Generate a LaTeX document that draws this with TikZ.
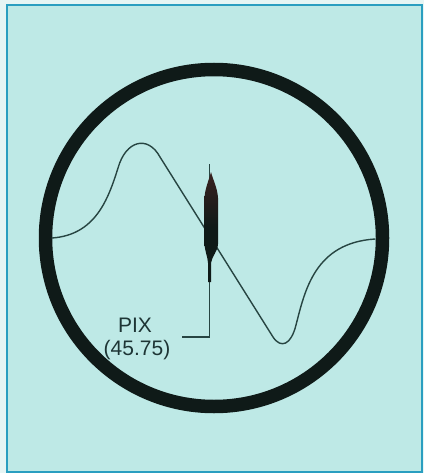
\documentclass[tikz,border=0pt]{standalone}
\usepackage{fontspec}
\setmainfont{Liberation Sans}
\definecolor{paper}{HTML}{E6F5F4}
\definecolor{panel}{HTML}{BEE9E6}
\definecolor{frameblue}{HTML}{2A9EC0}
\definecolor{ringc}{HTML}{0F1A18}
\definecolor{wavec}{HTML}{274542}
\definecolor{textc}{HTML}{1E3535}
\definecolor{blobtop}{HTML}{3A2220}
\begin{document}
\begin{tikzpicture}[x=1pt,y=-1pt,
  wave/.style={draw=wavec,line width=1.4pt,line join=round,line cap=round},
  leader/.style={draw=wavec,line width=1.1pt},
  lbl/.style={text=textc,font=\fontsize{21}{25}\selectfont,inner sep=0pt}]
\useasboundingbox (0,0) rectangle (424,473);
\fill[paper] (0,0) rectangle (424,473);
\filldraw[fill=panel,draw=frameblue,line width=2pt] (7,5) rectangle (421.5,471.5);
% ring
\draw[ringc,line width=13.5pt] (214,238) circle[radius=168.5];
% wave
\draw[wave] (52,238) .. controls (95,235) and (108,200) .. (118,168)
  .. controls (126,140) and (148,135) .. (160,157) -- (273,337)
  .. controls (281,349) and (291,345) .. (296,325)
  .. controls (305,290) and (315,243) .. (375,239);
% marker
\coordinate (lt) at (209.5,164);
\coordinate (lb) at (209.5,337);
\coordinate (le) at (182,337);
\draw[leader] (lt) -- (lb) -- (le);
\shade[top color=blobtop,bottom color=ringc,middle color=ringc]
  (211,172) .. controls (209,180) and (205,188) .. (204.5,198) -- (204.5,244)
  .. controls (205,252) and (207.5,256) .. (208,263) -- (208,282) -- (211,282) -- (211,263)
  .. controls (212,256) and (217.5,252) .. (218,244) -- (218,198)
  .. controls (217.5,188) and (213,180) .. (211,172) -- cycle;
% labels
\node[lbl] (pix) at (135,325) {PIX};
\node[lbl] (val) at (137,350) {(45.75)};
\end{tikzpicture}
\end{document}
